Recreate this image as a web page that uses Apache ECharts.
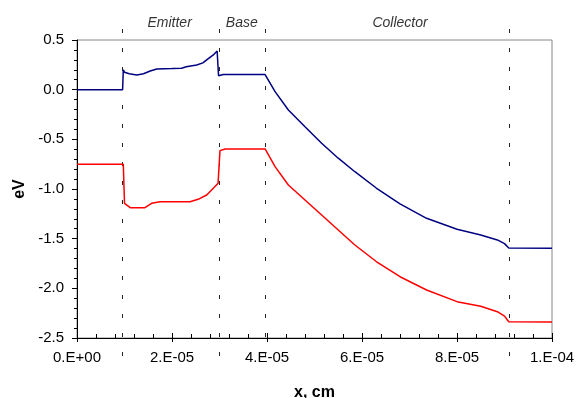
<!DOCTYPE html>
<html><head><meta charset="utf-8">
<script src="https://cdn.jsdelivr.net/npm/echarts@6/dist/echarts.min.js"></script>
<style>html,body{margin:0;padding:0;background:#fff}#c{width:579px;height:398px}</style>
</head><body><div id="c"></div>
<script>
// x positions in cm
const blueX = [0, 9.6e-6, 9.75e-6, 1.0e-5, 1.1e-5, 1.26e-5, 1.4e-5, 1.54e-5, 1.68e-5, 2.0e-5, 2.2e-5, 2.3e-5, 2.52e-5, 2.65e-5, 2.73e-5, 2.87e-5, 2.95e-5, 2.97e-5, 2.98e-5, 3.08e-5, 3.96e-5, 4.17e-5, 4.45e-5, 4.8e-5, 5.15e-5, 5.5e-5, 5.85e-5, 6.3e-5, 6.8e-5, 7.36e-5, 8.0e-5, 8.5e-5, 8.85e-5, 9.0e-5, 9.09e-5, 1.0e-4];
const blueY = [0, 0, 0.2, 0.175, 0.16, 0.148, 0.16, 0.188, 0.208, 0.212, 0.215, 0.23, 0.248, 0.27, 0.3, 0.35, 0.39, 0.39, 0.14, 0.152, 0.152, -0.02, -0.205, -0.373, -0.54, -0.69, -0.826, -0.99, -1.15, -1.295, -1.406, -1.463, -1.513, -1.55, -1.595, -1.597];
const redX = [0, 9.75e-6, 1.0e-5, 1.12e-5, 1.43e-5, 1.57e-5, 1.75e-5, 2.38e-5, 2.55e-5, 2.73e-5, 2.87e-5, 2.97e-5, 3.0e-5, 3.01e-5, 3.12e-5, 3.96e-5, 4.17e-5, 4.45e-5, 4.8e-5, 5.15e-5, 5.5e-5, 5.85e-5, 6.3e-5, 6.8e-5, 7.36e-5, 8.0e-5, 8.5e-5, 8.85e-5, 9.0e-5, 9.09e-5, 1.0e-4];
const redY = [-0.75, -0.75, -1.144, -1.188, -1.188, -1.144, -1.128, -1.128, -1.104, -1.06, -0.993, -0.943, -0.94, -0.614, -0.597, -0.597, -0.775, -0.96, -1.111, -1.262, -1.413, -1.564, -1.73, -1.883, -2.017, -2.134, -2.18, -2.235, -2.28, -2.336, -2.339];
const xTickLabels = ["0.E+00", "2.E-05", "4.E-05", "6.E-05", "8.E-05", "1.E-04"];
const regionBounds = [9.5e-6, 3.0e-5, 3.96e-5, 9.09e-5];
const regionNames = ["Emitter", "Base", "Collector"];
const regionLabelX = [1.95e-5, 3.47e-5, 6.8e-5];

const zip = (xs, ys) => xs.map((x, i) => [x, ys[i]]);
const FONT = '"Liberation Sans", Arial, sans-serif';

const chart = echarts.init(document.getElementById('c'), null, {renderer: 'canvas'});
chart.setOption({
  animation: false,
  backgroundColor: '#fff',
  grid: [
    {left: 77, top: 40, right: 27, bottom: 60, show: true, borderColor: '#888', borderWidth: 1,
     backgroundColor: 'transparent', containLabel: false, outerBoundsMode: 'none'},
    {left: 77, top: 18, right: 27, bottom: 42, show: false, containLabel: false, outerBoundsMode: 'none'}
  ],
  xAxis: [
    {
      type: 'value', gridIndex: 0, min: 0, max: 1e-4, interval: 2e-5,
      name: 'x, cm', nameLocation: 'middle', nameGap: 47,
      nameTextStyle: {fontFamily: FONT, fontSize: 16, fontWeight: 'bold', color: '#000'},
      axisLine: {show: true, onZero: false, lineStyle: {color: '#000', width: 1}},
      axisTick: {show: true, inside: true, length: 5, lineStyle: {color: '#000'}},
      minorTick: {show: true, splitNumber: 5, length: 4, lineStyle: {color: '#000'}},
      splitLine: {show: false},
      axisLabel: {margin: 12, fontFamily: FONT, fontSize: 15, color: '#000',
        formatter: v => xTickLabels[Math.round(v / 2e-5)]}
    },
    {
      type: 'value', gridIndex: 1, min: 0, max: 1e-4, show: false
    },
    {
      // outward half of the crossing major ticks
      type: 'value', gridIndex: 0, min: 0, max: 1e-4, interval: 2e-5, position: 'bottom',
      axisLine: {show: false, onZero: false},
      axisTick: {show: true, inside: false, length: 4, lineStyle: {color: '#000'}},
      axisLabel: {show: false}, splitLine: {show: false}
    }
  ],
  yAxis: [
    {
      type: 'value', gridIndex: 0, min: -2.5, max: 0.5, interval: 0.5,
      name: 'eV', nameLocation: 'middle', nameGap: 39, nameRotate: 90,
      nameTextStyle: {fontFamily: FONT, fontSize: 16, fontWeight: 'bold', color: '#000'},
      axisLine: {show: true, onZero: false, lineStyle: {color: '#000', width: 1}},
      axisTick: {show: true, inside: false, length: 5, lineStyle: {color: '#000'}},
      minorTick: {show: true, splitNumber: 5, length: 3, lineStyle: {color: '#000'}},
      splitLine: {show: false},
      axisLabel: {margin: 13, fontFamily: FONT, fontSize: 15, color: '#000',
        formatter: v => v.toFixed(1)}
    },
    {
      type: 'value', gridIndex: 1, min: 0, max: 1, show: false
    }
  ],
  series: [
    {
      type: 'line', xAxisIndex: 0, yAxisIndex: 0, data: zip(blueX, blueY),
      showSymbol: false, symbol: 'none', lineStyle: {color: '#000080', width: 1.5}, z: 5
    },
    {
      type: 'line', xAxisIndex: 0, yAxisIndex: 0, data: zip(redX, redY),
      showSymbol: false, symbol: 'none', lineStyle: {color: '#ff0000', width: 1.5}, z: 5
    },
    {
      type: 'scatter', xAxisIndex: 1, yAxisIndex: 1, symbolSize: 1, silent: true,
      itemStyle: {color: 'rgba(0,0,0,0)'},
      data: regionNames.map((n, i) => ({value: [regionLabelX[i], 1], name: n})),
      label: {show: true, position: 'inside', offset: [0, 5], formatter: p => p.name,
        fontFamily: FONT, fontSize: 14, fontStyle: 'italic', color: '#000'},
      z: 3
    },
    {
      type: 'line', xAxisIndex: 1, yAxisIndex: 1, data: [], silent: true,
      markLine: {
        silent: true, symbol: ['none', 'none'], animation: false,
        label: {show: false},
        lineStyle: {color: '#222', width: 1, type: [4, 15]},
        data: regionBounds.map(b => [{coord: [b, 0]}, {coord: [b, 1]}])
      },
      z: 3
    }
  ]
});
</script>
</body></html>
